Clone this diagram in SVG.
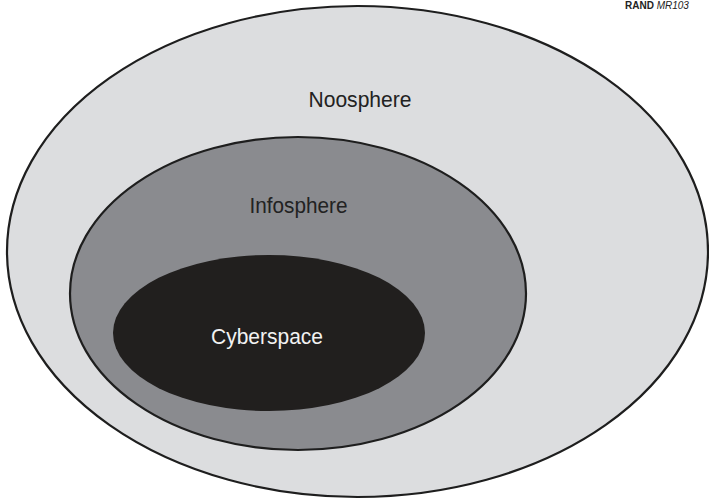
<svg xmlns="http://www.w3.org/2000/svg" width="709" height="501" viewBox="0 0 709 501">
<style>
.lbl{font-family:"Liberation Sans",Arial,Helvetica,sans-serif;font-size:22px;text-anchor:middle}
.ring{stroke:#1e1e1e;stroke-width:2.2}
</style>
<rect x="0" y="0" width="709" height="501" fill="#ffffff"/>
<g id="noosphere">
<ellipse class="ring" cx="357.5" cy="251.5" rx="350.5" ry="245.5" fill="#dcdddf"/>
<text class="lbl" x="360" y="107" fill="#222222" textLength="103" lengthAdjust="spacingAndGlyphs">Noosphere</text>
</g>
<g id="infosphere">
<ellipse class="ring" cx="298" cy="293.5" rx="228" ry="156.5" fill="#8a8b8f"/>
<text class="lbl" x="298.5" y="213" fill="#222222" textLength="98" lengthAdjust="spacingAndGlyphs">Infosphere</text>
</g>
<g id="cyberspace">
<ellipse cx="269" cy="333" rx="156" ry="78" fill="#211f1e"/>
<text class="lbl" x="267" y="344" fill="#f2f2f2" textLength="112" lengthAdjust="spacingAndGlyphs">Cyberspace</text>
</g>
<g id="connectors"/>
<g id="credit">
<text x="625" y="9" font-family="'Liberation Sans',Arial,sans-serif" font-size="10" fill="#222222"><tspan font-weight="bold">RAND</tspan> <tspan font-style="italic">MR103</tspan></text>
</g>
</svg>
